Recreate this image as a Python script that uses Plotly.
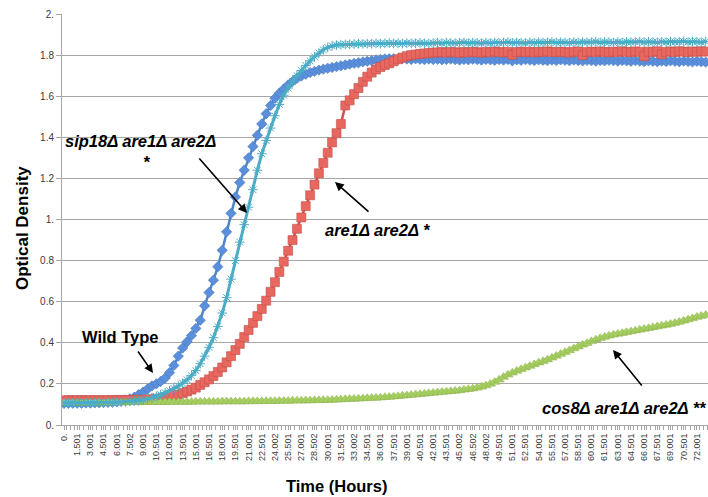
import plotly.graph_objects as go

# Sampling times (hours), one reading every half hour
HOURS = [round(0.5 * i, 1) for i in range(147)]

# Category labels shown on the time axis (every third reading)
TICK_HOURS = [round(1.5 * i, 1) for i in range(49)]
TICK_TEXT = [
    "0.", "1.501", "3.001", "4.501", "6.001", "7.502", "9.001", "10.501",
    "12.001", "13.501", "15.001", "16.501", "18.001", "19.501", "21.001",
    "22.501", "24.002", "25.501", "27.001", "28.502", "30.001", "31.501",
    "33.002", "34.501", "36.001", "37.501", "39.001", "40.501", "42.001",
    "43.501", "45.002", "46.502", "48.002", "49.501", "51.001", "52.501",
    "54.001", "55.501", "57.001", "58.501", "60.001", "61.501", "63.001",
    "64.501", "66.001", "67.501", "69.001", "70.501", "72.001",
]

Y_TICKS = [0, 0.2, 0.4, 0.6, 0.8, 1.0, 1.2, 1.4, 1.6, 1.8, 2.0]
Y_TEXT = ["0.", "0.2", "0.4", "0.6", "0.8", "1.", "1.2", "1.4", "1.6", "1.8", "2."]

# Optical density readings
WILD_TYPE = [
    0.105, 0.105, 0.106, 0.106, 0.106, 0.107, 0.107, 0.108, 0.108, 0.109,
    0.110, 0.111, 0.113, 0.116, 0.121, 0.127,
    0.135, 0.148, 0.160, 0.175, 0.190, 0.200, 0.212, 0.228, 0.255, 0.290,
    0.335, 0.375, 0.405, 0.435, 0.470, 0.510, 0.580, 0.645, 0.705, 0.770,
    0.850, 0.940, 1.030, 1.110, 1.180, 1.240, 1.300, 1.355, 1.410, 1.465,
    1.515, 1.555, 1.590, 1.615, 1.635, 1.655, 1.672, 1.687, 1.698, 1.707,
    1.715, 1.721, 1.727, 1.732, 1.736, 1.740, 1.744, 1.748, 1.752, 1.756,
    1.760, 1.763, 1.767, 1.770, 1.773, 1.776, 1.779, 1.781, 1.782,
    1.782, 1.780, 1.783, 1.781, 1.779, 1.782, 1.780, 1.778, 1.781, 1.779,
    1.780, 1.777, 1.779, 1.781, 1.778, 1.776, 1.779, 1.777, 1.780, 1.778,
    1.776, 1.779, 1.777, 1.775, 1.778, 1.776, 1.779, 1.772, 1.777, 1.775,
    1.778, 1.776, 1.774, 1.777, 1.775, 1.773, 1.776, 1.774, 1.777, 1.775,
    1.773, 1.776, 1.774, 1.772, 1.775, 1.773, 1.771, 1.774, 1.772, 1.775,
    1.773, 1.771, 1.774, 1.772, 1.770, 1.773, 1.771, 1.769, 1.772, 1.770,
    1.768, 1.771, 1.769, 1.772, 1.770, 1.768, 1.771, 1.769, 1.767, 1.770,
    1.768, 1.766,
]

SIP18_ARE1_ARE2 = [
    0.108, 0.108, 0.108, 0.108, 0.108, 0.109, 0.109, 0.109, 0.109, 0.110,
    0.110, 0.110, 0.111, 0.112, 0.113, 0.115, 0.117, 0.119,
    0.122, 0.127, 0.133, 0.140, 0.148, 0.157, 0.167, 0.178, 0.190, 0.203,
    0.220, 0.240, 0.265, 0.298, 0.335, 0.378, 0.425, 0.480, 0.545, 0.620,
    0.710, 0.800, 0.890, 0.975, 1.060, 1.145, 1.240, 1.320, 1.385, 1.445,
    1.505, 1.560, 1.605, 1.640, 1.672, 1.700, 1.725, 1.750, 1.772, 1.792,
    1.810, 1.826, 1.838, 1.845, 1.849, 1.851, 1.852, 1.853, 1.854, 1.855,
    1.855, 1.856, 1.855, 1.857, 1.856, 1.857, 1.858,
    1.857, 1.858, 1.856, 1.859, 1.857, 1.858, 1.860, 1.858, 1.857, 1.859,
    1.860, 1.858, 1.861, 1.859, 1.858, 1.860, 1.862, 1.859, 1.861, 1.860,
    1.858, 1.861, 1.859, 1.862, 1.860, 1.861, 1.863, 1.860, 1.862, 1.861,
    1.859, 1.862, 1.860, 1.863, 1.861, 1.862, 1.864, 1.861, 1.863, 1.862,
    1.860, 1.863, 1.861, 1.864, 1.862, 1.863, 1.865, 1.862, 1.864, 1.863,
    1.861, 1.864, 1.862, 1.865, 1.863, 1.864, 1.866, 1.863, 1.865, 1.864,
    1.862, 1.865, 1.863, 1.866, 1.864, 1.865, 1.867, 1.864, 1.866, 1.865,
    1.863, 1.866,
]

ARE1_ARE2 = [
    0.120, 0.121, 0.120, 0.121, 0.121, 0.120, 0.121, 0.121, 0.121, 0.120,
    0.121, 0.121, 0.121, 0.122, 0.121, 0.122, 0.122, 0.123, 0.123, 0.124,
    0.125, 0.127, 0.130, 0.133, 0.137, 0.142, 0.148, 0.155, 0.163, 0.172,
    0.182, 0.195, 0.208, 0.222, 0.238, 0.258, 0.280, 0.305, 0.335, 0.365,
    0.395, 0.428, 0.462, 0.497, 0.530, 0.565, 0.605, 0.648, 0.695, 0.745,
    0.795, 0.848, 0.900, 0.955, 1.010, 1.065, 1.118, 1.170, 1.225, 1.275,
    1.325, 1.375, 1.420, 1.465, 1.555, 1.580, 1.610, 1.640, 1.670, 1.695,
    1.715, 1.730, 1.742, 1.752, 1.760, 1.770, 1.780, 1.788, 1.795, 1.800,
    1.803, 1.806, 1.808, 1.810, 1.812,
    1.813, 1.815, 1.812, 1.816, 1.814, 1.811, 1.815, 1.813, 1.817, 1.814,
    1.812, 1.816, 1.814, 1.818, 1.815, 1.813, 1.816, 1.802, 1.815, 1.817,
    1.814, 1.816, 1.813, 1.817, 1.815, 1.818, 1.816, 1.814, 1.817, 1.815,
    1.812, 1.816, 1.818, 1.800, 1.815, 1.817, 1.814, 1.818, 1.816, 1.813,
    1.817, 1.815, 1.819, 1.816, 1.814, 1.818, 1.816, 1.795, 1.817, 1.815,
    1.819, 1.804, 1.816, 1.818, 1.815, 1.819, 1.817, 1.815, 1.818, 1.816,
    1.819, 1.817,
]

COS8_ARE1_ARE2 = [
    0.108, 0.108, 0.108, 0.108, 0.108, 0.108, 0.109, 0.109, 0.109, 0.109,
    0.109, 0.109, 0.110, 0.110, 0.110, 0.110, 0.110, 0.110, 0.111, 0.111,
    0.111, 0.111, 0.111, 0.111, 0.112, 0.112, 0.112, 0.112, 0.112, 0.112,
    0.113, 0.113, 0.113, 0.113, 0.113, 0.113, 0.114, 0.114, 0.114, 0.114,
    0.114, 0.114, 0.115, 0.115, 0.115, 0.115, 0.116, 0.116, 0.116, 0.117,
    0.117, 0.117, 0.118, 0.118, 0.118, 0.119, 0.119, 0.120, 0.120, 0.121,
    0.121, 0.122, 0.123, 0.124, 0.125, 0.126, 0.127, 0.128, 0.129, 0.130,
    0.131, 0.132, 0.133, 0.135, 0.136, 0.138, 0.140, 0.142, 0.144, 0.146,
    0.148, 0.150, 0.152, 0.154, 0.156, 0.158, 0.160, 0.162, 0.164, 0.166,
    0.168, 0.171, 0.174, 0.177, 0.181, 0.186, 0.192, 0.200, 0.209, 0.220,
    0.233, 0.244, 0.254, 0.263, 0.271, 0.279, 0.287, 0.295, 0.303, 0.310,
    0.318, 0.327, 0.336, 0.345, 0.354, 0.363, 0.372, 0.381, 0.390, 0.398,
    0.407, 0.415, 0.422, 0.428, 0.434, 0.439, 0.443, 0.447, 0.451, 0.455,
    0.459, 0.463, 0.467, 0.471, 0.475, 0.479, 0.483, 0.487, 0.491, 0.496,
    0.501, 0.507, 0.513, 0.519, 0.525, 0.530, 0.535,
]

GRID = "#A6A6A6"
TEXT = "#3A3A3A"
FONT = "Liberation Sans, Arial, sans-serif"

fig = go.Figure()

fig.add_trace(go.Scatter(
    x=HOURS, y=WILD_TYPE, mode="lines+markers", name="Wild Type",
    line=dict(color="#4F86C6", width=2.5),
    marker=dict(symbol="diamond", size=8, color="#5B8FDC",
                line=dict(color="#477BC0", width=0.6)),
))
fig.add_trace(go.Scatter(
    x=HOURS, y=ARE1_ARE2, mode="lines+markers", name="are1Δ are2Δ",
    line=dict(color="#D2504C", width=2.5),
    marker=dict(symbol="square", size=9, color="#E8675F",
                line=dict(color="#C4504C", width=0.6)),
))
fig.add_trace(go.Scatter(
    x=HOURS, y=COS8_ARE1_ARE2, mode="lines+markers", name="cos8Δ are1Δ are2Δ",
    line=dict(color="#9BBB59", width=2.5),
    marker=dict(symbol="triangle-up", size=9, color="#A6CF62",
                line=dict(color="#8FB04F", width=0.5)),
))
fig.add_trace(go.Scatter(
    x=HOURS, y=SIP18_ARE1_ARE2, mode="lines+markers", name="sip18Δ are1Δ are2Δ",
    line=dict(color="#4BACC6", width=3),
    marker=dict(symbol="asterisk-open", size=8,
                line=dict(color="#5BBAD3", width=1)),
))


def px_to_data(px, py):
    # plot frame: t = 0 h sits at x = 64 px, 8.79 px per hour; OD 0 at y = 425 px, 205.5 px per unit
    return (px - 64) / 8.79, (425 - py) / 205.5


label_font = dict(family=FONT, size=16.5, color="#000000")
labels = [
    ("<b><i>sip18Δ are1Δ are2Δ</i></b>", 63, 141, "left"),
    ("<b><i>*</i></b>", 147, 162, "center"),
    ("<b><i>are1Δ are2Δ *</i></b>", 323, 230, "left"),
    ("<b>Wild Type</b>", 80, 337, "left"),
    ("<b><i>cos8Δ are1Δ are2Δ **</i></b>", 540, 408, "left"),
]
for text, px, py, anchor in labels:
    tx, ty = px_to_data(px, py)
    fig.add_annotation(x=tx, y=ty, xref="x", yref="y", text=text,
                       showarrow=False, xanchor=anchor, yanchor="middle",
                       font=label_font)

# arrows: (head x, head y, tail x, tail y) in pixels
arrows = [
    (247, 213, 198, 157),
    (335, 182, 370, 213),
    (153, 373, 137, 350),
    (613, 350, 643, 387),
]
for hx, hy, tx_, ty_ in arrows:
    ax_, ay_ = px_to_data(hx, hy)
    fig.add_annotation(x=ax_, y=ay_, xref="x", yref="y", text="",
                       showarrow=True, arrowhead=2, arrowsize=1.1,
                       arrowwidth=1.6, arrowcolor="#000000",
                       ax=tx_ - hx, ay=ty_ - hy)

fig.add_annotation(x=-40 / 646, y=(425 - 228) / 411, xref="paper", yref="paper",
                   text="<b>Optical Density</b>", showarrow=False,
                   textangle=-90, xanchor="center", yanchor="middle",
                   font=dict(family=FONT, size=17, color="#000000"))
fig.add_annotation(x=(336 - 62) / 646, y=(425 - 486) / 411, xref="paper", yref="paper",
                   text="<b>Time (Hours)</b>", showarrow=False,
                   xanchor="center", yanchor="middle",
                   font=dict(family=FONT, size=16.5, color="#000000"))

fig.update_layout(
    width=708, height=497,
    margin=dict(l=62, r=0, t=14, b=72),
    paper_bgcolor="white", plot_bgcolor="white",
    showlegend=False,
    xaxis=dict(
        range=[-2 / 8.79, -2 / 8.79 + 646 / 8.79],
        tickmode="array", tickvals=TICK_HOURS, ticktext=TICK_TEXT,
        tickangle=-90, tickfont=dict(family=FONT, size=9, color=TEXT),
        showgrid=False, zeroline=False,
        showline=True, linecolor=GRID, linewidth=1,
        ticks="outside", ticklen=4, tickcolor=GRID,
        minor=dict(dtick=0.5, tick0=0.25, ticks="outside", ticklen=4, tickcolor=GRID),
    ),
    yaxis=dict(
        range=[0, 2.0001],
        tickmode="array", tickvals=Y_TICKS, ticktext=Y_TEXT,
        tickfont=dict(family=FONT, size=10, color=TEXT),
        showgrid=True, gridcolor=GRID, gridwidth=1, zeroline=False,
        showline=True, linecolor=GRID, linewidth=1,
        ticks="outside", ticklen=5, tickcolor=GRID,
    ),
)

fig.write_html("out.html")
